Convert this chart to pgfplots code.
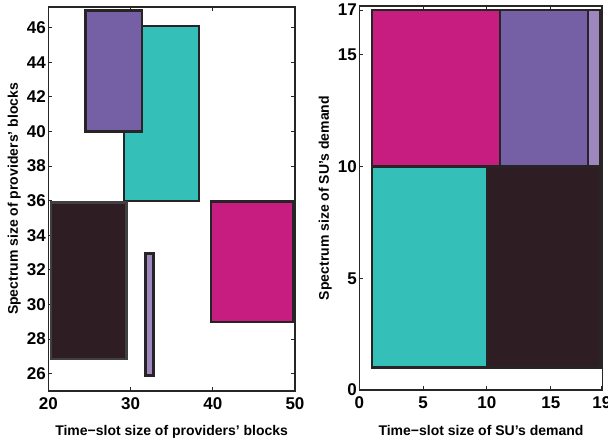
\documentclass[border=0pt]{standalone}
\usepackage{fontspec}
\setmainfont{Liberation Sans}
\usepackage{pgfplots}
\pgfplotsset{compat=1.18}
\definecolor{cpurple}{RGB}{117,96,166}
\definecolor{cteal}{RGB}{52,191,185}
\definecolor{cdark}{RGB}{46,30,36}
\definecolor{clight}{RGB}{158,134,190}
\definecolor{cmag}{RGB}{199,29,128}
\definecolor{cedge}{RGB}{40,36,38}
\pgfplotsset{
  rect/.style={draw=cedge, line width=2.4pt, line join=miter},
  common/.style={
    scale only axis,
    axis line style={line width=1.1pt, black!85},
    tick style={line width=0.9pt, black!85},
    major tick length=4pt,
    /pgf/number format/assume math mode=true,
    ticklabel style={font=\fontsize{17}{17}\selectfont\bfseries},
    xticklabel style={yshift=-3pt},
    yticklabel style={xshift=1pt},
    label style={font=\fontsize{14}{14}\selectfont\bfseries},
    xlabel style={at={(axis description cs:0.5,0)}, anchor=center, yshift=-41pt},
    ylabel style={at={(axis description cs:0,0.5)}, anchor=center, yshift=34pt},
  }
}
\begin{document}
\begin{tikzpicture}
\useasboundingbox (0pt,0pt) rectangle (608pt,446pt);
\begin{axis}[common, at={(48.3pt,55pt)}, anchor=south west,
  width=246.7pt, height=384pt,
  xmin=20, xmax=50, ymin=25, ymax=47.2,
  xtick={20,30,40,50}, ytick={26,28,...,46},
  xlabel={Time−slot size of providers’ blocks},
  ylabel={Spectrum size of providers’ blocks}]
\addplot[rect, fill=cteal] coordinates {(29.2,36) (38.3,36) (38.3,46.1) (29.2,46.1)} -- cycle;
\addplot[rect, fill=cpurple] coordinates {(24.5,40) (31.4,40) (31.4,47) (24.5,47)} -- cycle;
\addplot[rect, fill=cdark, draw=black!75] coordinates {(20.3,26.85) (29.5,26.85) (29.5,35.9) (20.3,35.9)} -- cycle;
\addplot[rect, fill=clight] coordinates {(31.8,25.9) (32.8,25.9) (32.8,32.95) (31.8,32.95)} -- cycle;
\addplot[rect, fill=cmag] coordinates {(39.8,29) (49.8,29) (49.8,35.95) (39.8,35.95)} -- cycle;
\end{axis}
\begin{axis}[common, at={(359.3pt,56pt)}, anchor=south west,
  width=243.4pt, height=384pt,
  xmin=0, xmax=19.07, ymin=0, ymax=17.18,
  xtick={0,5,10,15,19}, ytick={0,5,10,15,17},
  xlabel={Time−slot size of SU’s demand},
  ylabel={Spectrum size of SU’s demand}]
\addplot[rect, fill=cteal] coordinates {(1,1) (10,1) (10,10) (1,10)} -- cycle;
\addplot[rect, fill=cdark] coordinates {(10,1) (18.9,1) (18.9,10) (10,10)} -- cycle;
\addplot[rect, fill=cmag] coordinates {(1,10) (11,10) (11,17) (1,17)} -- cycle;
\addplot[rect, fill=cpurple] coordinates {(11,10) (17.9,10) (17.9,17) (11,17)} -- cycle;
\addplot[rect, fill=clight] coordinates {(17.9,10) (18.9,10) (18.9,17) (17.9,17)} -- cycle;
\end{axis}
\end{tikzpicture}
\end{document}
